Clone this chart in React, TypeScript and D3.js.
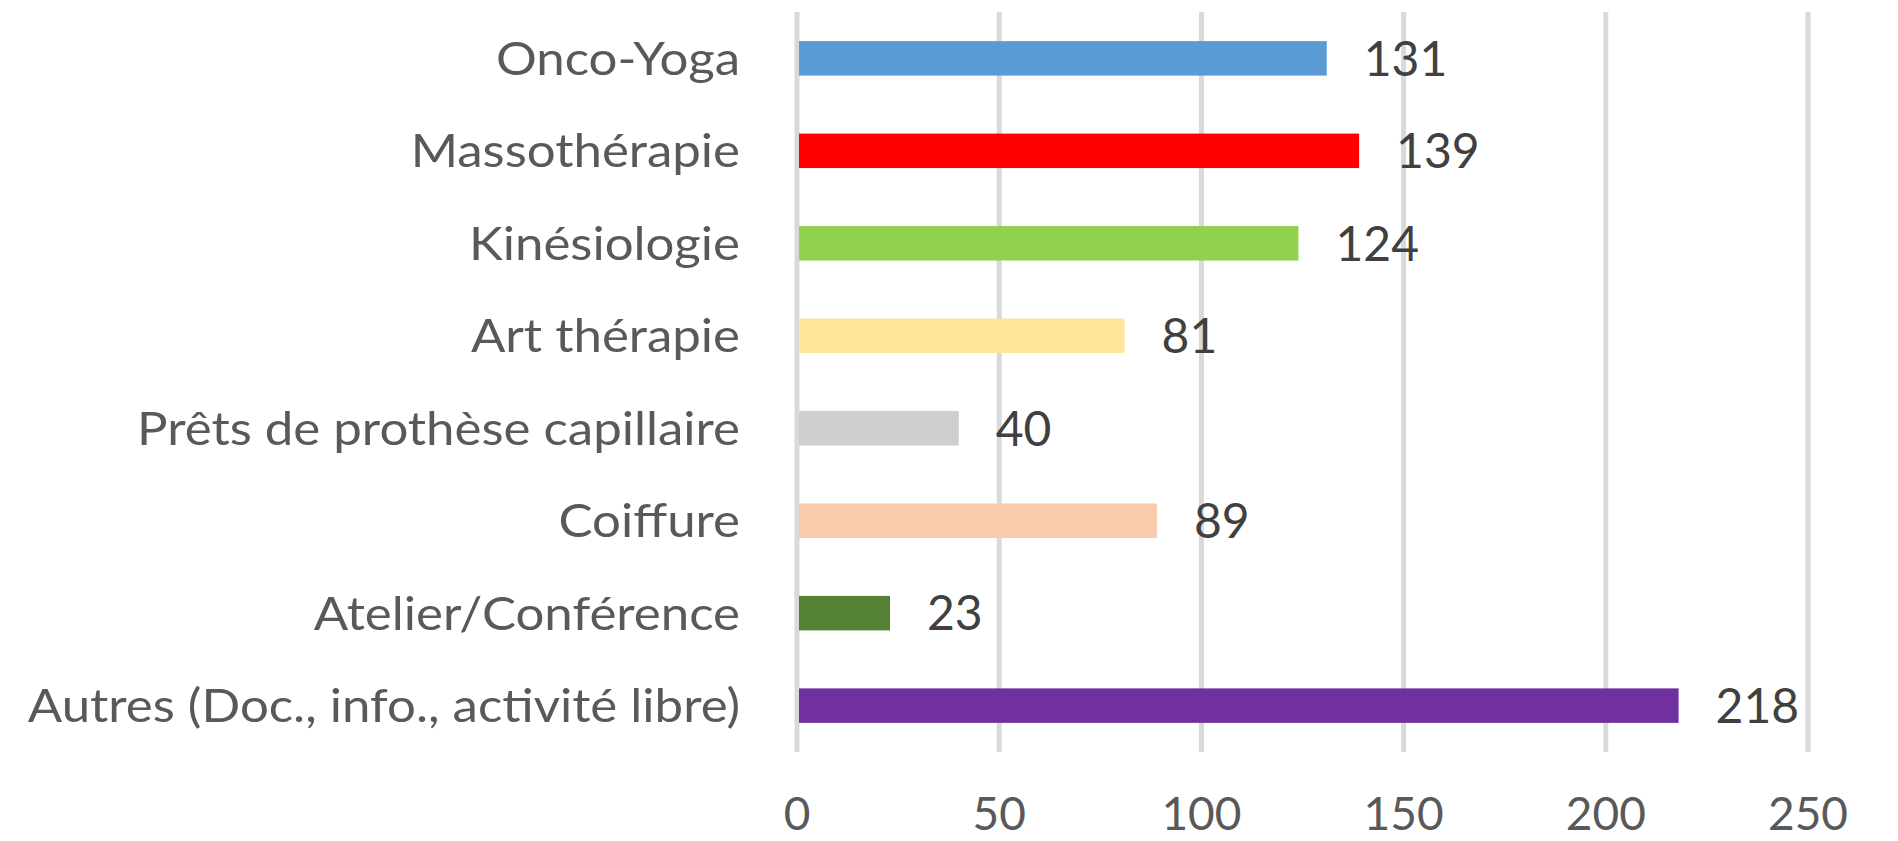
import React, { useEffect, useRef } from 'react';
import * as d3 from 'd3';

const categories = [
  'Onco-Yoga',
  'Massothérapie',
  'Kinésiologie',
  'Art thérapie',
  'Prêts de prothèse capillaire',
  'Coiffure',
  'Atelier/Conférence',
  'Autres (Doc., info., activité libre)',
];
const values = [131, 139, 124, 81, 40, 89, 23, 218];
const barColors = ['#5B9BD5', '#FF0000', '#92D050', '#FFE699', '#D0CECE', '#F8CBAD', '#548235', '#7030A0'];
const tickValues = [0, 50, 100, 150, 200, 250];

const width = 1898;
const height = 841;

export default function App() {
  const ref = useRef<SVGSVGElement>(null);

  useEffect(() => {
    drawChart();
  }, []);

  function drawChart() {
    const svg = d3.select(ref.current);
    svg.selectAll('*').remove();

    const x = d3.scaleLinear().domain([0, 250]).range([797, 1808]);
    const y = d3
      .scaleBand<string>()
      .domain(categories)
      .range([12, 752])
      .paddingInner(0.627)
      .paddingOuter(0.315);

    const font = 'Lato, "Open Sans", sans-serif';

    // vertical gridlines
    svg
      .append('g')
      .selectAll('line')
      .data(tickValues)
      .enter()
      .append('line')
      .attr('x1', (d) => x(d))
      .attr('x2', (d) => x(d))
      .attr('y1', 12)
      .attr('y2', 752)
      .attr('stroke', '#d9d9d9')
      .attr('stroke-width', 5);

    // tick labels
    svg
      .append('g')
      .selectAll('text')
      .data(tickValues)
      .enter()
      .append('text')
      .attr('x', (d) => x(d))
      .attr('y', 830)
      .attr('text-anchor', 'middle')
      .attr('font-family', font)
      .attr('font-size', 46)
      .attr('fill', '#595959')
      .text((d) => d);

    const rows = categories.map((c, i) => ({ label: c, value: values[i], color: barColors[i] }));

    // bars
    svg
      .append('g')
      .selectAll('rect')
      .data(rows)
      .enter()
      .append('rect')
      .attr('x', x(0) + 2)
      .attr('y', (d) => y(d.label)!)
      .attr('width', (d) => x(d.value) - x(0) - 2)
      .attr('height', y.bandwidth())
      .attr('fill', (d) => d.color);

    // category labels (slightly stretched, the source font is wider)
    svg
      .append('g')
      .selectAll('text')
      .data(rows)
      .enter()
      .append('text')
      .attr('transform', (d) => `translate(740,${y(d.label)! + y.bandwidth() / 2}) scale(1.085,1)`)
      .attr('dy', '0.35em')
      .attr('text-anchor', 'end')
      .attr('font-family', font)
      .attr('font-size', 47)
      .attr('fill', '#595959')
      .text((d) => d.label);

    // value labels
    svg
      .append('g')
      .selectAll('text')
      .data(rows)
      .enter()
      .append('text')
      .attr('x', (d) => x(d.value) + 37)
      .attr('y', (d) => y(d.label)! + y.bandwidth() / 2)
      .attr('dy', '0.36em')
      .attr('font-family', font)
      .attr('font-size', 48)
      .attr('fill', '#404040')
      .text((d) => d.value);
  }

  return (
    <div style={{ position: 'absolute', left: 0, top: 0 }}>
      <svg ref={ref} width={width} height={height} style={{ display: 'block', background: '#fff' }} />
    </div>
  );
}
